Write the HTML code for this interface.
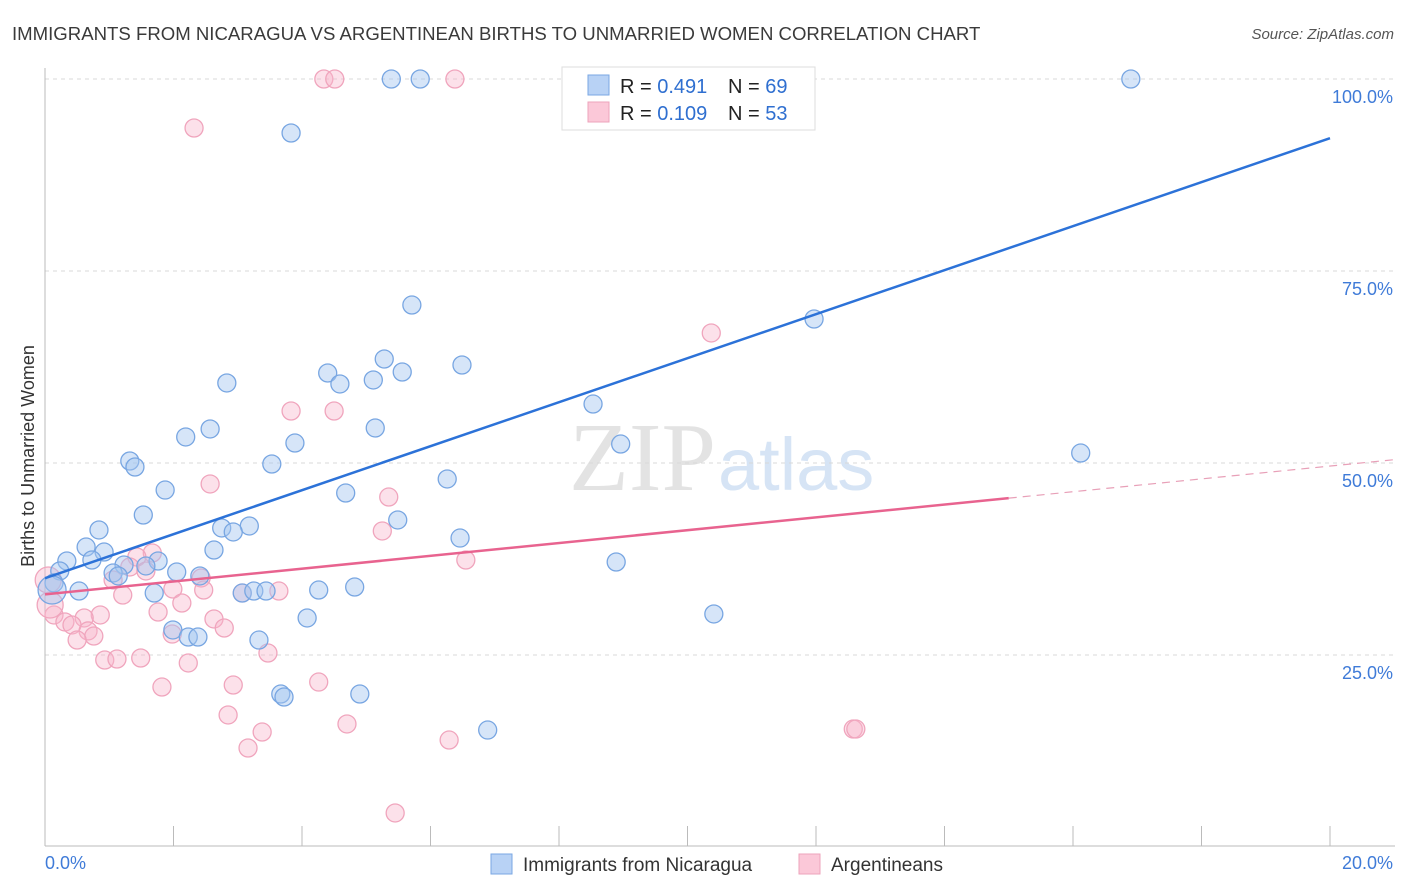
<!DOCTYPE html>
<html><head><meta charset="utf-8"><style>
body{margin:0;background:#fff;font-family:"Liberation Sans",sans-serif;}
#wrap{position:relative;width:1406px;height:892px;overflow:hidden;}
</style></head><body><div id="wrap">
<svg id="svg" width="1406" height="892" xmlns="http://www.w3.org/2000/svg">
<text x="12" y="40" font-size="18.6" fill="#3a3a3a">IMMIGRANTS FROM NICARAGUA VS ARGENTINEAN BIRTHS TO UNMARRIED WOMEN CORRELATION CHART</text>
<text x="1394" y="39" font-size="15" fill="#555" font-style="italic" text-anchor="end">Source: ZipAtlas.com</text>
<text x="716" y="490" font-size="98" fill="#e3e3e3" text-anchor="end" font-family="Liberation Serif,serif">ZIP</text>
<text x="718" y="490" font-size="74" fill="#d6e4f5">atlas</text>
<text transform="translate(34,456) rotate(-90)" font-size="18" fill="#333" text-anchor="middle">Births to Unmarried Women</text>
<g id="grid"></g><g id="pts"></g><g id="lines"></g>
<g>
<rect x="562" y="67" width="253" height="63" fill="#fff" stroke="#ddd"/>
<rect x="588" y="75" width="21" height="20" fill="#b8d2f5" stroke="#7aa7e3"/>
<rect x="588" y="102" width="21" height="20" fill="#fbc8d8" stroke="#eea3bb"/>
<text x="620" y="93" font-size="20" fill="#222">R = <tspan fill="#2f6fd0">0.491</tspan></text>
<text x="728" y="93" font-size="20" fill="#222">N = <tspan fill="#2f6fd0">69</tspan></text>
<text x="620" y="120" font-size="20" fill="#222">R = <tspan fill="#2f6fd0">0.109</tspan></text>
<text x="728" y="120" font-size="20" fill="#222">N = <tspan fill="#2f6fd0">53</tspan></text>
</g>
<g>
<rect x="491" y="854" width="21" height="20" fill="#b8d2f5" stroke="#7aa7e3"/>
<text x="523" y="871" font-size="19" fill="#333">Immigrants from Nicaragua</text>
<rect x="799" y="854" width="21" height="20" fill="#fbc8d8" stroke="#eea3bb"/>
<text x="831" y="871" font-size="19" fill="#333">Argentineans</text>
</g>
</svg></div>
<script>
const blueX=[5.39,5.84,9.39,9.76,16.90,3.83,5.71,11.97,5.28,6.49,5.56,4.40,4.59,5.11,2.83,8.53,2.57,5.14,2.19,3.89,8.96,16.12,1.32,1.40,3.53,1.87,4.68,6.26,1.53,5.49,0.84,3.18,2.75,2.93,6.46,0.64,0.92,2.63,0.34,0.73,1.23,1.76,8.89,0.23,1.06,1.57,2.05,1.14,2.41,0.14,0.53,1.70,3.07,3.25,3.44,4.26,4.82,10.41,4.08,1.99,2.23,2.38,3.33,3.67,3.72,4.90,6.89,0.11];
const blueY=[100,100,100,100,100,92.97,70.57,68.75,63.54,62.76,61.85,61.72,60.29,60.81,60.42,57.68,54.43,54.56,53.39,52.60,52.47,51.30,50.26,49.48,49.87,46.48,46.09,47.92,43.23,42.58,41.28,41.80,41.54,41.02,40.23,39.06,38.41,38.67,37.24,37.37,36.72,37.24,37.11,35.94,35.68,36.59,35.81,35.29,35.29,34.38,33.33,33.07,33.07,33.33,33.33,33.46,33.85,30.34,29.82,28.26,27.34,27.34,26.95,19.92,19.53,19.92,15.23,33.46];
const pinkX=[4.34,4.51,6.38,2.32,10.37,3.83,4.50,2.57,5.35,5.25,6.55,1.67,1.43,1.32,1.57,2.43,1.06,1.99,1.21,2.47,3.07,3.64,2.13,1.76,0.86,0.61,0.14,0.31,0.42,0.67,0.76,1.98,2.63,2.79,0.50,3.47,0.93,1.12,1.49,2.23,1.82,2.93,4.26,2.85,3.38,4.70,3.16,6.29,12.58,12.62,5.45,0.05,0.08];
const pinkY=[100,100,100,93.62,66.93,56.77,56.77,47.27,45.57,41.15,37.37,38.28,37.76,36.46,35.94,35.03,34.77,33.59,32.81,33.46,33.07,33.33,31.77,30.60,30.21,29.82,30.21,29.30,28.91,28.13,27.47,27.73,29.69,28.52,26.95,25.26,24.35,24.48,24.61,23.96,20.83,21.09,21.48,17.19,14.97,16.02,12.89,13.93,15.36,15.36,4.43,34.77,31.51];
const yTicks=[25,50,75,100];
const yTickLabels=["25.0%","50.0%","75.0%","100.0%"];
const xTicks=[0,2,4,6,8,10,12,14,16,18,20];
const blueTrend=[35.0,92.3];
const pinkTrend=[32.9,49.6];
const pinkSolidEnd=15.0;
const NS="http://www.w3.org/2000/svg";
const X=v=>45+v/20*1285, Y=v=>847-v*7.68;
function mk(t,a,p){const e=document.createElementNS(NS,t);for(const k in a)e.setAttribute(k,a[k]);document.getElementById(p).appendChild(e);return e;}
yTicks.forEach((t,i)=>{
 const l=mk('line',{x1:45,x2:1395,y1:Y(t),y2:Y(t),stroke:'#d8d8d8','stroke-dasharray':'4,4'},'grid');
 
 
 const tx=mk('text',{x:1393,y:Y(t)+24,'font-size':18,fill:'#3f7bd8','text-anchor':'end'},'grid');
 tx.textContent=yTickLabels[i];
 
 
});
let a=mk('line',{x1:45,x2:45,y1:68,y2:846,stroke:'#bbb'},'grid');


a=mk('line',{x1:45,x2:1395,y1:846,y2:846,stroke:'#bbb'},'grid');


xTicks.forEach(t=>{const l=mk('line',{x1:X(t),x2:X(t),y1:826,y2:846,stroke:'#bbb'},'grid');
 
 });
let t0=mk('text',{x:45,y:869,'font-size':18,fill:'#3f7bd8'},'grid');t0.textContent='0.0%';


t0=mk('text',{x:1393,y:869,'font-size':18,fill:'#3f7bd8','text-anchor':'end'},'grid');t0.textContent='20.0%';


pinkX.forEach((x,i)=>{const big=(i>=51);const c=mk('circle',{cx:X(x),cy:Y(pinkY[i]),r:big?13:9,fill:'rgba(248,180,202,0.4)',stroke:'#f0a5bd','stroke-width':1.3},'pts');
 
 });
blueX.forEach((x,i)=>{const big=(i===67);const c=mk('circle',{cx:X(x),cy:Y(blueY[i]),r:big?14:9,fill:'rgba(165,198,240,0.45)',stroke:'#78a6e2','stroke-width':1.3},'pts');
 
 });
let ln=mk('line',{x1:X(0),y1:Y(blueTrend[0]),x2:X(20),y2:Y(blueTrend[1]),stroke:'#2c72d8','stroke-width':2.5},'lines');


const pAt=x=>pinkTrend[0]+(pinkTrend[1]-pinkTrend[0])*x/20;
ln=mk('line',{x1:X(0),y1:Y(pAt(0)),x2:X(pinkSolidEnd),y2:Y(pAt(pinkSolidEnd)),stroke:'#e8638f','stroke-width':2.5},'lines');


ln=mk('line',{x1:X(pinkSolidEnd),y1:Y(pAt(pinkSolidEnd)),x2:X(21),y2:Y(pAt(21)),stroke:'#e8a0b8','stroke-width':1.2,'stroke-dasharray':'8,6'},'lines');


</script></body></html>
